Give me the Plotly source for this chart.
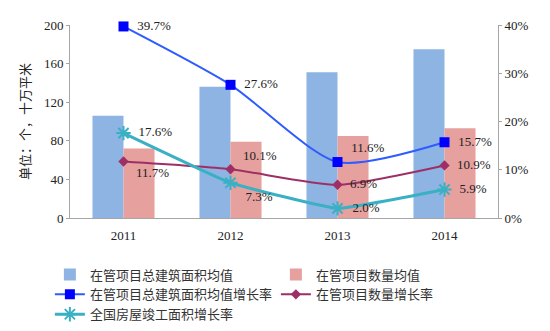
import plotly.graph_objects as go

years = ["2011", "2012", "2013", "2014"]
area_avg = [106, 136, 151, 175]
count_avg = [72, 79, 85, 93]
area_growth = [39.7, 27.6, 11.6, 15.7]
count_growth = [11.7, 10.1, 6.9, 10.9]
nation_growth = [17.6, 7.3, 2.0, 5.9]
pct_ticks = [0, 10, 20, 30, 40]

names = ["在管项目总建筑面积均值", "在管项目数量均值", "在管项目总建筑面积均值增长率",
         "在管项目数量增长率", "全国房屋竣工面积增长率"]

FONT = "Liberation Serif, Times New Roman, Noto Sans CJK SC, serif"

fig = go.Figure()
fig.add_bar(x=years, y=area_avg, name=names[0], marker_color="#8DB4E2", marker_line_width=0)
fig.add_bar(x=years, y=count_avg, name=names[1], marker_color="#E6A09E", marker_line_width=0)

def lbl(v):
    return [f"  {x:.1f}%" for x in v]

tf = dict(family=FONT, size=13, color="#222222")

fig.add_scatter(x=years, y=area_growth, yaxis="y2", name=names[2], mode="lines+markers+text",
                line=dict(color="#2F5BFF", width=2, shape="spline", smoothing=0.7),
                marker=dict(symbol="square", size=10, color="#0000FF"),
                text=lbl(area_growth), cliponaxis=False,
                textposition=["middle right", "middle right", "top right", "middle right"],
                textfont=tf)
fig.add_scatter(x=years, y=count_growth, yaxis="y2", name=names[3], mode="lines+markers+text",
                line=dict(color="#9E2F66", width=2, shape="spline", smoothing=0.6),
                marker=dict(symbol="diamond", size=8, color="#9E2F66"),
                text=lbl(count_growth), cliponaxis=False,
                textposition=["bottom right", "top right", "middle right", "middle right"],
                textfont=tf)
fig.add_scatter(x=years, y=nation_growth, yaxis="y2", name=names[4], mode="lines+markers+text",
                line=dict(color="#3AB0C4", width=3, shape="spline", smoothing=0.3),
                marker=dict(symbol="asterisk-open", size=12, color="#3AB0C4", line=dict(width=2, color="#3AB0C4")),
                text=lbl(nation_growth), cliponaxis=False,
                textposition=["middle right", "bottom right", "middle right", "middle right"],
                textfont=tf)

fig.update_layout(
    width=550, height=331,
    margin=dict(l=70, r=52, t=25, b=113, autoexpand=False),
    paper_bgcolor="white", plot_bgcolor="white",
    barmode="group", bargap=0.42, bargroupgap=0,
    font=dict(family=FONT, size=13, color="#222222"),
    showlegend=True,
    legend=dict(orientation="h", x=-0.047, xanchor="left", y=-0.215, yanchor="top",
                entrywidth=181, traceorder="normal",
                font=dict(family="Noto Sans CJK SC, sans-serif", size=13, color="#333333"),
                tracegroupgap=0, itemwidth=30),
    xaxis=dict(showline=True, linecolor="#A6A6A6", linewidth=1, ticks="", showgrid=False,
               ticklabelstandoff=5, tickfont=dict(family=FONT, size=13)),
    yaxis=dict(range=[0, 200], tickvals=[0, 40, 80, 120, 160, 200], showline=True,
               linecolor="#A6A6A6", linewidth=1, ticks="outside", ticklen=3, tickcolor="#A6A6A6",
               showgrid=False, zeroline=False, tickfont=dict(family=FONT, size=13),
               title=dict(text="单位：个，十万平米", font=dict(family="Noto Sans CJK SC", size=13), standoff=10)),
    yaxis2=dict(range=[0, 40], tickvals=pct_ticks, ticktext=[f"{v}%" for v in pct_ticks],
                overlaying="y", side="right",
                showline=True, linecolor="#A6A6A6", linewidth=1, ticks="outside", ticklen=3,
                tickcolor="#A6A6A6", showgrid=False, zeroline=False, tickfont=dict(family=FONT, size=13)),
)

fig.write_html("out.html")
